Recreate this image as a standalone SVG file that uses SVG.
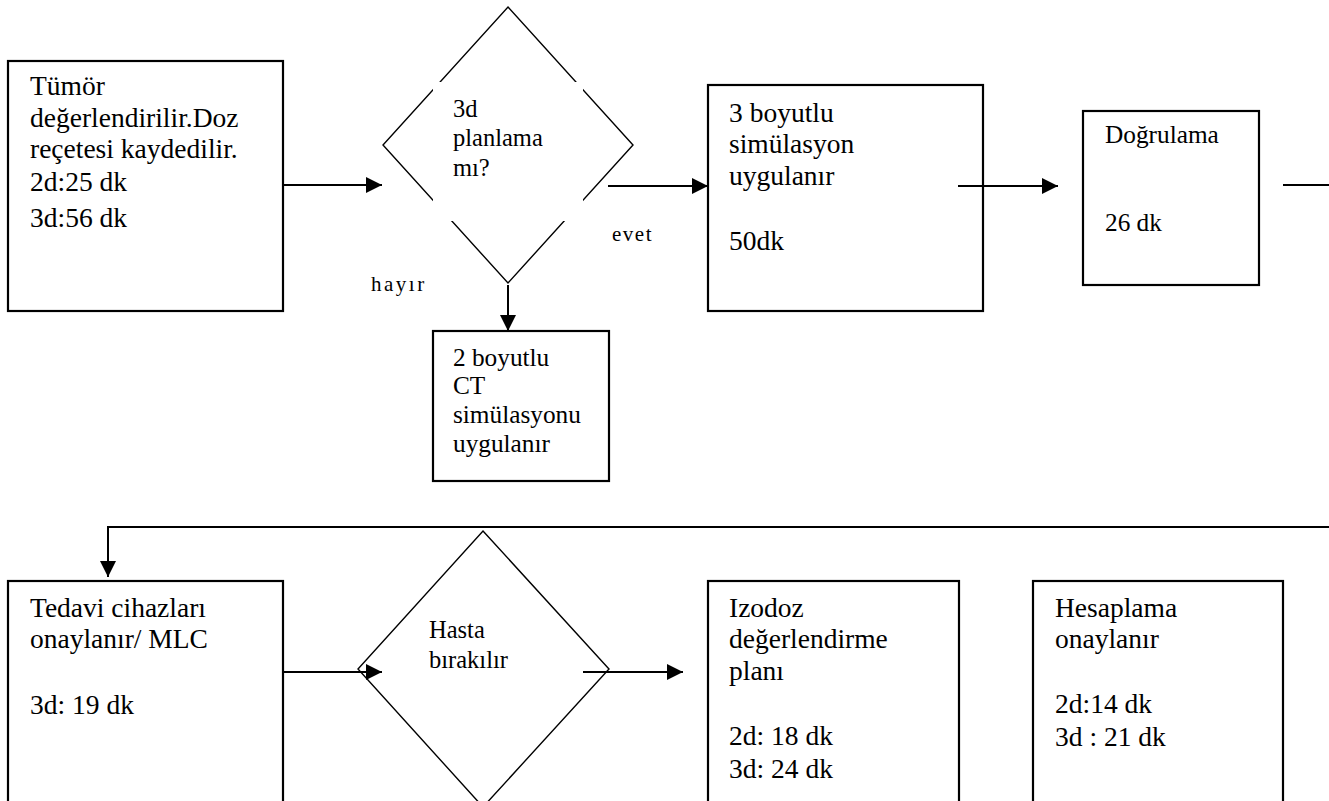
<svg xmlns="http://www.w3.org/2000/svg" width="1329" height="801" viewBox="0 0 1329 801">
  <defs>
    <marker id="arrow" markerUnits="userSpaceOnUse" markerWidth="16" markerHeight="16" refX="16" refY="8" orient="auto">
      <path d="M0,0 L16,8 L0,16 z" fill="#000"/>
    </marker>
    <style>
      .box { fill: #fff; stroke: #000; stroke-width: 2.2; }
      .dia { fill: #fff; stroke: #000; stroke-width: 1.4; }
      .mask { fill: #fff; stroke: none; }
      .t { font-family: "Liberation Serif", "Times New Roman", serif; font-size: 27.5px; fill: #000; }
      .ts { font-size: 25.3px; }
      .td { font-family: "Liberation Serif", "Times New Roman", serif; font-size: 24.5px; fill: #000; }
      .lbl { font-family: "Liberation Serif", "Times New Roman", serif; font-size: 21px; fill: #000; }
      .conn { fill: none; stroke: #000; stroke-width: 2; }
    </style>
  </defs>
  <rect width="1329" height="801" fill="#fff"/>

  <!-- top row -->
  <g id="tumor">
    <rect class="box" x="8" y="61" width="275" height="250"/>
    <text class="t" x="30" y="95">Tümör</text>
    <text class="t" x="30" y="127">değerlendirilir.Doz</text>
    <text class="t" x="30" y="158">reçetesi kaydedilir.</text>
    <text class="t" x="30" y="191">2d:25 dk</text>
    <text class="t" x="30" y="227">3d:56 dk</text>
  </g>

  <g id="planlama">
    <polygon class="dia" points="508,7 633,145 508,283 383,145"/>
    <rect class="mask" x="433" y="82" width="150" height="139"/>
    <text class="td" x="453" y="117">3d</text>
    <text class="td" x="453" y="146">planlama</text>
    <text class="td" x="453" y="176">mı?</text>
  </g>

  <g id="sim2d">
    <rect class="box" x="433" y="331" width="176" height="150"/>
    <text class="t ts" x="453" y="366">2 boyutlu</text>
    <text class="t ts" x="453" y="394">CT</text>
    <text class="t ts" x="453" y="423">simülasyonu</text>
    <text class="t ts" x="453" y="452">uygulanır</text>
  </g>

  <g id="sim3d">
    <rect class="box" x="708" y="85" width="275" height="226"/>
    <text class="t" x="729" y="122">3 boyutlu</text>
    <text class="t" x="729" y="153">simülasyon</text>
    <text class="t" x="729" y="185">uygulanır</text>
    <text class="t" x="729" y="250">50dk</text>
  </g>

  <g id="dogrulama">
    <rect class="box" x="1083" y="111" width="176" height="174"/>
    <text class="t ts" x="1105" y="143">Doğrulama</text>
    <text class="t ts" x="1105" y="231">26 dk</text>
  </g>

  <!-- bottom row -->
  <g id="tedavi">
    <rect class="box" x="8" y="581" width="275" height="240"/>
    <text class="t" x="30" y="617">Tedavi cihazları</text>
    <text class="t" x="30" y="648">onaylanır/ MLC</text>
    <text class="t" x="30" y="714">3d: 19 dk</text>
  </g>

  <g id="hasta">
    <polygon class="dia" points="483,531 609,669 483,807 358,669"/>
    <text class="td" x="429" y="638">Hasta</text>
    <text class="td" x="429" y="668">bırakılır</text>
  </g>

  <g id="izodoz">
    <rect class="box" x="708" y="581" width="251" height="240"/>
    <text class="t" x="729" y="617">Izodoz</text>
    <text class="t" x="729" y="648">değerlendirme</text>
    <text class="t" x="729" y="680">planı</text>
    <text class="t" x="729" y="745">2d: 18 dk</text>
    <text class="t" x="729" y="778">3d: 24 dk</text>
  </g>

  <g id="hesaplama">
    <rect class="box" x="1033" y="581" width="250" height="240"/>
    <text class="t" x="1055" y="617">Hesaplama</text>
    <text class="t" x="1055" y="648">onaylanır</text>
    <text class="t" x="1055" y="713">2d:14 dk</text>
    <text class="t" x="1055" y="746">3d : 21 dk</text>
  </g>

  <!-- connectors -->
  <g id="connectors">
    <path class="conn" d="M283,185 H382" marker-end="url(#arrow)"/>
    <path class="conn" d="M608,186 H708" marker-end="url(#arrow)"/>
    <path class="conn" d="M508,285 V331" marker-end="url(#arrow)"/>
    <path class="conn" d="M958,186 H1058" marker-end="url(#arrow)"/>
    <path class="conn" d="M1283,185 H1329"/>
    <path class="conn" d="M1329,527 H108 V577" marker-end="url(#arrow)"/>
    <path class="conn" d="M283,672 H382" marker-end="url(#arrow)"/>
    <path class="conn" d="M583,672 H683" marker-end="url(#arrow)"/>
    <text class="lbl" x="612" y="241" letter-spacing="1.5">evet</text>
    <text class="lbl" x="371" y="291" letter-spacing="2.5">hayır</text>
  </g>
</svg>
